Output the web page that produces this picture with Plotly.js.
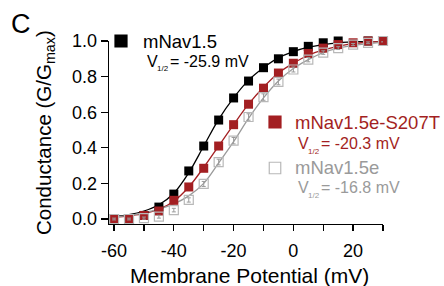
<!DOCTYPE html>
<html>
<head>
<meta charset="utf-8">
<script src="https://cdn.plot.ly/plotly-3.0.1.min.js"></script>
<style>html,body{margin:0;padding:0;background:#fff}#chart{width:444px;height:286px}</style>
</head>
<body>
<div id="chart"></div>
<script>
// Membrane potential (mV)
const voltage = [-60,-55,-50,-45,-40,-35,-30,-25,-20,-15,-10,-5,0,5,10,15,20,25,30];

// Measured normalized conductance (G/Gmax)
const gNav15      = [0.0,0.003,0.02,0.067,0.14,0.27,0.41,0.556,0.68,0.775,0.85,0.90,0.94,0.97,0.99,1.0,1.005,1.0,1.0];
const gNav15eS207T= [0.0,0.0,0.02,0.045,0.105,0.18,0.285,0.41,0.53,0.645,0.735,0.82,0.875,0.93,0.96,0.98,0.99,1.0,1.0];
const gNav15e     = [0.0,0.0,0.005,0.013,0.05,0.107,0.197,0.32,0.44,0.573,0.685,0.77,0.84,0.895,0.935,0.96,0.98,0.99,1.0];
const errNav15e   = [0.005,0.005,0.006,0.008,0.01,0.012,0.014,0.016,0.018,0.018,0.018,0.016,0.014,0.012,0.01,0.008,0.006,0.005,0.005];

// Boltzmann fit curves
const fitNav15      = [0.015,0.025,0.045,0.08,0.145,0.26,0.41,0.56,0.68,0.78,0.85,0.905,0.94,0.965,0.98,0.99,0.995,1.0,1.0];
const fitNav15eS207T= [0.01,0.018,0.03,0.055,0.1,0.18,0.29,0.41,0.53,0.645,0.74,0.82,0.875,0.92,0.95,0.97,0.985,0.993,0.997];
const fitNav15e     = [0.012,0.02,0.035,0.055,0.085,0.13,0.2,0.315,0.435,0.565,0.68,0.775,0.845,0.895,0.935,0.96,0.975,0.985,0.992];

const xTicks = [-60,-40,-20,0,20];
const xTickLabels = ['-60','-40','-20','0','20'];
const yTicks = [0,0.2,0.4,0.6,0.8,1.0];
const yTickLabels = ['0.0','0.2','0.4','0.6','0.8','1.0'];

const names = ['mNav1.5','mNav1.5e-S207T','mNav1.5e'];
const v12 = ['-25.9','-20.3','-16.8'];
const xTitle = 'Membrane Potential (mV)';
const yTitle = 'Conductance (G/G<sub>max</sub>)';
const panelLabel = 'C';

const BLACK = '#000000', RED = '#a31f22', GRAY = '#9a9a9a', LGRAY = '#b8b8b8';
const FONT = 'Arial, "Liberation Sans", Helvetica, sans-serif';

const W=444, H=286, ML=109, MR=61, MT=41, MB=62;
const PW = W-ML-MR, PH = H-MT-MB;
const px = v => (v-ML)/PW;        // pixel x -> paper
const py = v => 1-(v-MT)/PH;      // pixel y -> paper

const traces = [
  {x: voltage, y: fitNav15, mode:'lines', line:{color:BLACK, width:1.3, shape:'spline'}, hoverinfo:'skip', showlegend:false},
  {x: voltage, y: fitNav15eS207T, mode:'lines', line:{color:RED, width:1.3, shape:'spline'}, hoverinfo:'skip', showlegend:false},
  {x: voltage, y: fitNav15e, mode:'lines', line:{color:GRAY, width:1.3, shape:'spline'}, hoverinfo:'skip', showlegend:false},
  {x: voltage, y: gNav15, name: names[0], mode:'markers', cliponaxis:false,
   marker:{symbol:'square', size:9, color:BLACK}, showlegend:false},
  {x: voltage, y: gNav15eS207T, name: names[1], mode:'markers', cliponaxis:false,
   marker:{symbol:'square', size:9, color:RED}, showlegend:false},
  {x: voltage, y: gNav15e, name: names[2], mode:'markers', cliponaxis:false,
   error_y:{type:'data', array:errNav15e, color:GRAY, thickness:1, width:2},
   marker:{symbol:'square-open', size:9, color:LGRAY, line:{width:1.2}}, showlegend:false}
];

function txt(x, y, text, color, size, xa, ya, extra) {
  return Object.assign({xref:'paper', yref:'paper', x:px(x), y:py(y), text:text, showarrow:false,
    xanchor:xa||'left', yanchor:ya||'middle', borderpad:0, font:{family:FONT, size:size, color:color}}, extra||{});
}
// V1/2 label built from plain pieces so every piece sits where the reference has it
function vhalf(x, y, value, color) {
  return [
    txt(x, y, 'V', color, 16),
    txt(x + 10, y + 8, '1/2', color, 8),
    txt(x + 23, y, '= ' + value + ' mV', color, 16)
  ];
}

const annotations = [
  txt(142, 41, names[0], BLACK, 18.5),
  ...vhalf(146, 61, v12[0], BLACK),
  txt(294, 122, names[1], RED, 18.5),
  ...vhalf(297, 143, v12[1], RED),
  txt(294, 167, names[2], GRAY, 18.5),
  ...vhalf(297, 187, v12[2], GRAY),
  txt(21, 24, panelLabel, BLACK, 27, 'center', 'middle'),
  txt(249, 275, xTitle, BLACK, 21, 'center', 'middle'),
  txt(45, 133, yTitle, BLACK, 20.5, 'center', 'middle', {textangle:-90})
];

function sq(cx, cy, s, fill, line) {
  return {type:'rect', xref:'paper', yref:'paper', x0:px(cx-s/2), x1:px(cx+s/2), y0:py(cy+s/2), y1:py(cy-s/2),
    fillcolor:fill, line:{color:line, width:1.2}};
}
const shapes = [
  sq(121, 41, 12, BLACK, BLACK),
  sq(275, 122, 12, RED, RED),
  sq(275, 168, 11.5, 'rgba(0,0,0,0)', LGRAY)
];

const tickStyle = {ticks:'outside', tickwidth:1.3, tickcolor:BLACK};
const layout = {
  width: W, height: H,
  margin:{l:ML, r:MR, t:MT, b:MB, pad:0},
  paper_bgcolor:'#fff', plot_bgcolor:'#fff',
  font:{family:FONT, color:BLACK},
  showlegend:false,
  xaxis:Object.assign({range:[-61.7,30], tickmode:'array', tickvals:xTicks, ticktext:xTickLabels, ticklen:6,
    ticklabelstandoff:4,
    minor:{tick0:-60, dtick:10, ticks:'outside', ticklen:6, tickwidth:1.3, tickcolor:BLACK, showgrid:false},
    showline:true, linecolor:BLACK, linewidth:1.3, showgrid:false, zeroline:false,
    tickfont:{family:FONT, size:18, color:BLACK}}, tickStyle),
  yaxis:Object.assign({range:[-0.028,1.0], tickmode:'array', tickvals:yTicks, ticktext:yTickLabels, ticklen:7,
    showline:true, linecolor:BLACK, linewidth:1.3, showgrid:false, zeroline:false,
    tickfont:{family:FONT, size:18, color:BLACK}}, tickStyle),
  annotations: annotations,
  shapes: shapes
};

Plotly.newPlot('chart', traces, layout, {displayModeBar:false, staticPlot:true});
</script>
</body>
</html>
